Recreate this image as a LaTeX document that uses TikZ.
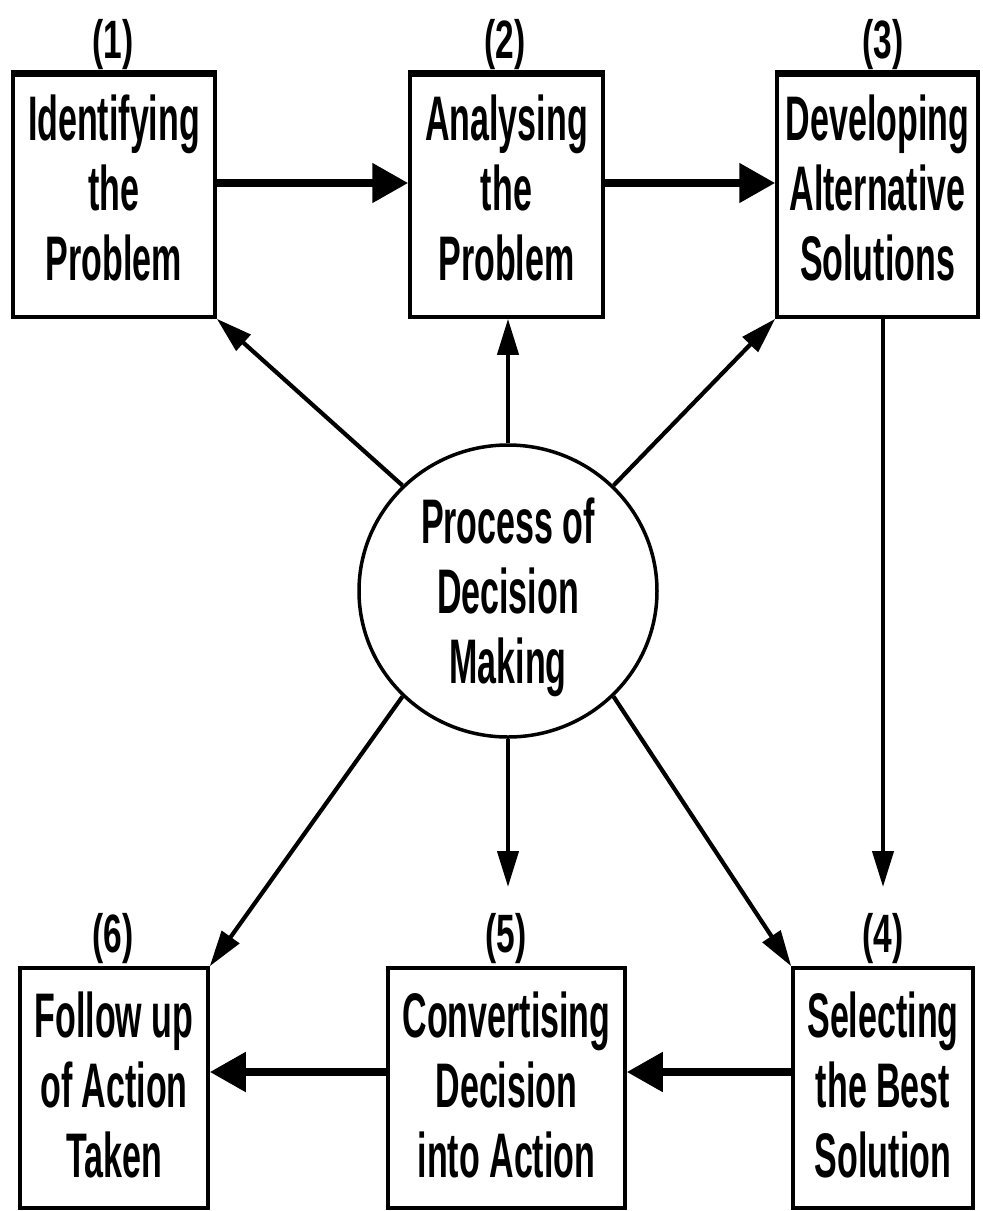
\documentclass[tikz,border=0pt]{standalone}
\usepackage{fontspec}
\newfontfamily\bxfont{Liberation Sans}[FakeStretch=0.54]
\newfontfamily\lbfont{Liberation Sans}[FakeStretch=0.62]
\usetikzlibrary{arrows.meta,shapes.geometric}
\newcommand{\tb}[2][49pt]{\begin{tabular}{@{}c@{}}\rule{0pt}{#1}#2\end{tabular}}
\begin{document}
\begin{tikzpicture}[x=1pt,y=-1pt,
  box/.style={draw, line width=3.5pt, rectangle, inner sep=0pt, minimum height=242pt,
    font=\bxfont\bfseries\fontsize{63pt}{70pt}\selectfont},
  topedge/.style={line width=7pt},
  lbl/.style={inner sep=0pt, anchor=base, font=\lbfont\bfseries\fontsize{54pt}{60pt}\selectfont},
  ell/.style={draw, ellipse, line width=3.5pt, inner sep=-30pt, minimum width=298pt, minimum height=292pt,
    font=\bxfont\bfseries\fontsize{63pt}{70pt}\selectfont},
  smallarrow/.style={line width=4.2pt, -{Triangle[length=36pt,width=21pt]}},
  bigarrow/.style={line width=8pt, -{Triangle[length=36pt,width=38pt]}}
]
\useasboundingbox (0,0) rectangle (983,1211);

% boxes
\node[box, minimum width=202pt] (b1) at (114,196) {\tb{Identifying\\the\\Problem}};
\node[box, minimum width=193pt] (b2) at (506.5,196) {\tb{Analysing\\the\\Problem}};
\node[box, minimum width=201pt] (b3) at (877.5,196) {\tb{Developing\\Alternative\\Solutions}};
\node[box, minimum width=180pt, minimum height=240pt] (b4) at (883,1088) {\tb[59pt]{Selecting\\the Best\\Solution}};
\node[box, minimum width=237pt, minimum height=240pt] (b5) at (506.5,1088) {\tb[59pt]{Convertising\\Decision\\into Action}};
\node[box, minimum width=188pt, minimum height=240pt] (b6) at (114,1088) {\tb[59pt]{Follow up\\of Action\\Taken}};

\draw[topedge] (b1.north west) -- (b1.north east);
\draw[topedge] (b2.north west) -- (b2.north east);
\draw[topedge] (b3.north west) -- (b3.north east);

% labels
\node[lbl] (l1) at (113,58) {(1)};
\node[lbl] (l2) at (505,58) {(2)};
\node[lbl] (l3) at (883,58) {(3)};
\node[lbl] (l4) at (883,952) {(4)};
\node[lbl] (l5) at (506,952) {(5)};
\node[lbl] (l6) at (113,952) {(6)};

% centre ellipse
\node[ell] (pdm) at (508,591) {\tb[66pt]{Process of\\Decision\\Making}};

% free arrow ends
\coordinate (t4) at (883,887);
\coordinate (t5) at (508,887);

% main flow
\draw[bigarrow] ([yshift=13pt]b1.east) -- ([yshift=13pt]b2.west);
\draw[bigarrow] ([yshift=13pt]b2.east) -- ([yshift=13pt]b3.west);
\draw[smallarrow] (t4 |- b3.south) -- (t4);
\draw[bigarrow] ([yshift=16pt]b4.west) -- ([yshift=16pt]b5.east);
\draw[bigarrow] ([yshift=16pt]b5.west) -- ([yshift=16pt]b6.east);

% from centre
\draw[smallarrow] (pdm.135) -- (b1.south east);
\draw[smallarrow] (pdm.north) -- (pdm.north |- b2.south);
\draw[smallarrow] (pdm.45) -- (b3.south west);
\draw[smallarrow] (pdm.-45) -- (b4.north west);
\draw[smallarrow] (pdm.south) -- (t5);
\draw[smallarrow] (pdm.-135) -- (b6.north east);
\end{tikzpicture}
\end{document}
